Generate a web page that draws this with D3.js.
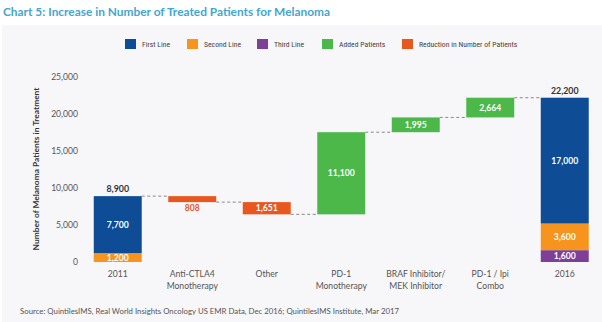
<!DOCTYPE html>
<html><head><meta charset="utf-8">
<script src="https://cdn.jsdelivr.net/npm/d3@7/dist/d3.min.js"></script>
<style>body{margin:0;background:#fff}svg{display:block}</style>
</head><body><svg id="c" width="602" height="322"></svg>
<script>
const categories = [["2011"],["Anti-CTLA4","Monotherapy"],["Other"],["PD-1","Monotherapy"],["BRAF Inhibitor/","MEK Inhibitor"],["PD-1 / Ipi","Combo"],["2016"]];
const firstLine  = [7700, 0, 0, 0, 0, 0, 17000];
const secondLine = [1200, 0, 0, 0, 0, 0, 3600];
const thirdLine  = [0, 0, 0, 0, 0, 0, 1600];
const changes    = [0, -808, -1651, 11100, 1995, 2664, 0];
const yTicks = [0, 5000, 10000, 15000, 20000, 25000];
const legendItems = ["First Line","Second Line","Third Line","Added Patients","Reduction in Number of Patients"];
const colors = ["#0e4c96","#f7941d","#7d3f98","#4cb84a","#e8571e"];

const svg = d3.select("#c");
const font = "Lato, 'Open Sans', sans-serif";
svg.append("rect").attr("x",2).attr("y",25).attr("width",600).attr("height",297).attr("fill","#f7f6f9");
svg.append("text").attr("x",3).attr("y",16).attr("font-family",font).attr("font-weight","bold")
  .attr("font-size",11.9).attr("fill","#42a6d2").text("Chart 5: Increase in Number of Treated Patients for Melanoma");

// legend
const legX = [125,187,257,322,402];
legendItems.forEach((t,i)=>{
  svg.append("rect").attr("x",legX[i]).attr("y",39).attr("width",11).attr("height",10).attr("fill",colors[i]);
  svg.append("text").attr("x",legX[i]+17).attr("y",47).attr("font-family","'Liberation Sans Narrow', 'Roboto Condensed', Roboto, sans-serif")
    .attr("font-size",7.7).attr("fill","#444").text(t);
});

const x = d3.scaleBand().domain(d3.range(categories.length)).range([80.5,602]).paddingInner(0.356).paddingOuter(0.178);
const y = d3.scaleLinear().domain([0,25000]).range([262,77]);

// y axis labels
svg.selectAll(".yt").data(yTicks).join("text").attr("x",78).attr("y",d=>y(d)+3)
  .attr("text-anchor","end").attr("font-family",font).attr("font-size",8.6).attr("fill","#555")
  .text(d=>d3.format(",")(d));
svg.append("text").attr("transform",`translate(39,169) rotate(-90)`).attr("text-anchor","middle")
  .attr("font-family",font).attr("font-weight","bold").attr("font-size",8.4).attr("fill","#333")
  .text("Number of Melanoma Patients in Treatment");

// compute running totals
const segs = [];
let running = 0;
const levels = [];
categories.forEach((c,i)=>{
  if (changes[i] === 0) {
    const parts = [[thirdLine[i],2],[secondLine[i],1],[firstLine[i],0]];
    let base = 0;
    parts.forEach(([v,ci])=>{ if(v>0){ segs.push({i,y0:base,y1:base+v,color:colors[ci],v,type:"stack"}); base+=v; } });
    running = base;
    segs.push({i,total:base,type:"total"});
  } else {
    const y0 = running, y1 = running + changes[i];
    segs.push({i,y0:Math.min(y0,y1),y1:Math.max(y0,y1),color:changes[i]>0?colors[3]:colors[4],v:Math.abs(changes[i]),type:changes[i]>0?"add":"red"});
    running = y1;
  }
  levels.push(running);
});

// connectors
for (let i=0;i<categories.length-1;i++){
  svg.append("line").attr("x1",x(i)+x.bandwidth()).attr("x2",x(i+1))
    .attr("y1",y(levels[i])).attr("y2",y(levels[i]))
    .attr("stroke","#8a8a8a").attr("stroke-width",1).attr("stroke-dasharray","3,2.5");
}

const bars = segs.filter(s=>s.type!=="total");
svg.selectAll(".bar").data(bars).join("rect").attr("x",d=>x(d.i)).attr("width",x.bandwidth())
  .attr("y",d=>y(d.y1)).attr("height",d=>y(d.y0)-y(d.y1)).attr("fill",d=>d.color);

bars.forEach(d=>{
  const h = y(d.y0)-y(d.y1);
  const small = h < 7;
  svg.append("text").attr("x",x(d.i)+x.bandwidth()/2)
    .attr("y", small ? y(d.y0)+9 : (y(d.y0)+y(d.y1))/2+3)
    .attr("text-anchor","middle").attr("font-family",font).attr("font-weight","bold").attr("font-size",8.6)
    .attr("fill", small ? d.color : "#fff").text(d3.format(",")(d.v));
});
segs.filter(s=>s.type==="total").forEach(d=>{
  svg.append("text").attr("x",x(d.i)+x.bandwidth()/2).attr("y",y(d.total)-4)
    .attr("text-anchor","middle").attr("font-family",font).attr("font-weight","bold").attr("font-size",8.8)
    .attr("fill","#333").text(d3.format(",")(d.total));
});

// x labels
categories.forEach((lines,i)=>{
  lines.forEach((t,j)=>{
    svg.append("text").attr("x",x(i)+x.bandwidth()/2).attr("y",277+j*12).attr("text-anchor","middle")
      .attr("font-family",font).attr("font-size",8.6).attr("fill","#555").text(t);
  });
});

svg.append("text").attr("x",20).attr("y",314).attr("font-family",font).attr("font-size",7.8).attr("fill","#555")
  .text("Source: QuintilesIMS, Real World Insights Oncology US EMR Data, Dec 2016; QuintilesIMS Institute, Mar 2017");
</script></body></html>
